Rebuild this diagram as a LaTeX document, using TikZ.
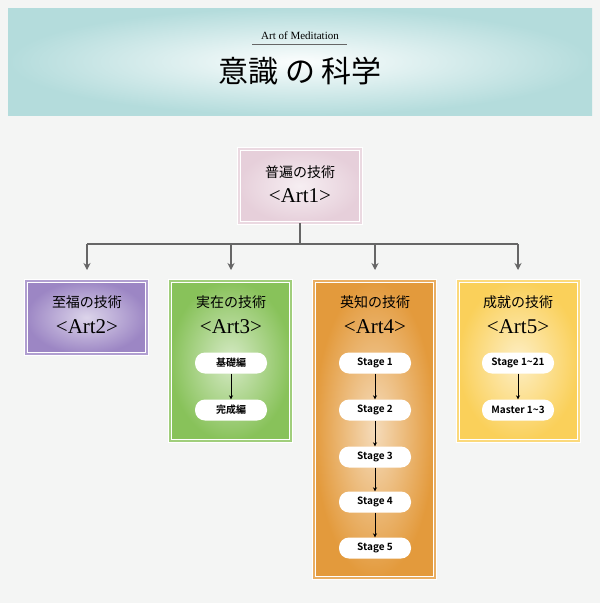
\documentclass[tikz,border=0pt]{standalone}
\usepackage{fontspec}
\setmainfont{Liberation Serif}
\newfontfamily\jp{Noto Sans CJK JP}
\newfontfamily\jpb{Noto Sans CJK JP Bold}
\usetikzlibrary{arrows.meta}
\definecolor{bg}{HTML}{F4F5F4}
\definecolor{teal}{HTML}{B4DCDC}
\definecolor{pinkc}{HTML}{E6CFDA}
\definecolor{purplec}{HTML}{9C86C4}
\definecolor{greenc}{HTML}{88C25A}
\definecolor{orangec}{HTML}{E39A3C}
\definecolor{yellowc}{HTML}{FAD05A}
\definecolor{linec}{HTML}{666666}
\tikzset{
  artbox/.style={draw=white, line width=0.8pt, double=#1!80!white, double distance=2.5pt, inner color=#1!35!white, outer color=#1},
  pill/.style={fill=white, rounded corners=10pt, minimum width=72pt, minimum height=21pt, font=\jpb\fontsize{10}{12}\selectfont},
  ttl/.style={font=\jp\fontsize{14}{16}\selectfont},
  artlbl/.style={font=\fontsize{21}{22}\selectfont},
  tree/.style={draw=linec, line width=1.5pt},
  small/.style={-{Stealth[length=4pt,width=4pt]}, line width=1pt},
}
\begin{document}
\begin{tikzpicture}[x=1pt, y=-1pt]
\useasboundingbox (0,0) rectangle (600,603);
\fill[bg] (0,0) rectangle (600,603);
% header
\shade[inner color=white!95!teal, outer color=teal] (8,8) rectangle (592,115);
\node[font=\fontsize{11}{12}\selectfont] (sub) at (300,36) {Art of Meditation};
\draw[linec, line width=0.6pt] (252,44) -- (347,44);
\node[font=\jp\fontsize{30}{32}\selectfont] (title) at (300,71) {意識 の 科学};
% top box
\shade[artbox=pinkc] (239,149) rectangle (361,223);
\node[ttl] (t1) at (300,172) {普遍の技術};
\node[artlbl] (a1) at (300,196) {<Art1>};
\coordinate (top) at (300,223);
\coordinate (mid) at (300,244);
\draw[tree] (top) -- (mid);
\draw[tree] (87,244) -- (518,244);
\foreach \x in {87,231,375,518}
  \draw[tree, -{Stealth[length=7pt,width=7pt]}] (\x,244) -- (\x,270);
% second level
\shade[artbox=purplec] (26,281) rectangle (147,354);
\shade[artbox=greenc] (170,281) rectangle (291,441);
\shade[artbox=orangec] (314,281) rectangle (435,578);
\shade[artbox=yellowc] (458,281) rectangle (579,441);
\node[ttl] (t2) at (87,302) {至福の技術};
\node[artlbl] (a2) at (87,327) {<Art2>};
\node[ttl] (t3) at (231,302) {実在の技術};
\node[artlbl] (a3) at (231,327) {<Art3>};
\node[ttl] (t4) at (375,302) {英知の技術};
\node[artlbl] (a4) at (375,327) {<Art4>};
\node[ttl] (t5) at (518,302) {成就の技術};
\node[artlbl] (a5) at (518,327) {<Art5>};
% pills
\node[pill] (k1) at (231,363) {基礎編};
\node[pill] (k2) at (231,410) {完成編};
\draw[small] (k1) -- (k2);
\node[pill] (s1) at (375,363) {Stage 1};
\node[pill] (s2) at (375,410) {Stage 2};
\node[pill] (s3) at (375,457) {Stage 3};
\node[pill] (s4) at (375,502) {Stage 4};
\node[pill] (s5) at (375,548) {Stage 5};
\foreach \a/\b in {s1/s2,s2/s3,s3/s4,s4/s5}
  \draw[small] (\a) -- (\b);
\node[pill] (m1) at (518,363) {Stage 1\textasciitilde21};
\node[pill] (m2) at (518,410) {Master 1\textasciitilde3};
\draw[small] (m1) -- (m2);
\end{tikzpicture}
\end{document}
